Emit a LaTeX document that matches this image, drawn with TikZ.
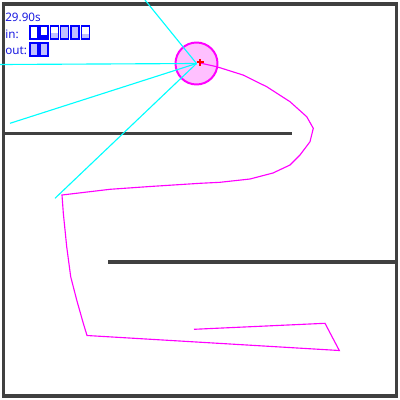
\documentclass[tikz,border=0pt]{standalone}
\usepackage{fontspec}
\setmainfont{Noto Sans}
\usetikzlibrary{positioning}
\definecolor{simMuro}{HTML}{404040}
\definecolor{simRayo}{HTML}{00FFFF}
\definecolor{simRuta}{HTML}{FF00FF}
\definecolor{simRosa}{HTML}{FFC0FF}
\definecolor{simAzul}{HTML}{0000FF}
\definecolor{simTexto}{HTML}{1A1AE0}
\definecolor{simCeleste}{HTML}{C0C0FF}

\begin{document}
\begin{tikzpicture}[x=0.25mm, y=-0.25mm,
      muro/.style={draw=simMuro, line width=2.4pt},
      rayo/.style={draw=simRayo, line width=0.8pt},
      ruta/.style={draw=simRuta, line width=0.8pt},
      celda/.style={draw=simAzul, line width=1.1pt},
      robotito/.style={circle, draw=simRuta, fill=simRosa, line width=1.4pt,
                minimum size=10.5mm, inner sep=0pt},
      txt/.style={anchor=base west, inner sep=0pt, text=simTexto,
                font=\fontsize{8.3}{10}\selectfont}]
    \useasboundingbox (0,0) rectangle (400,400);
    % paredes
    \draw[muro] (3.5,4) rectangle (396.5,396);
    \draw[muro] (3.5,133.5) -- (291.5,133.5);
    \draw[muro] (108,262) -- (396.5,262);
    % robot
    \node[robotito] (robot) at (196.5,63.5) {};
    \coordinate (r1) at (145,0);
    \coordinate (r2) at (0,64.5);
    \coordinate (r3) at (10,123.3);
    \coordinate (r4) at (55,198.3);
    \foreach \r in {r1,r2,r3,r4}
      \draw[rayo] (robot.center) -- (\r);
    % recorrido
    \draw[ruta] (200,63) -- (216.7,66.7) -- (243,75) -- (266.7,86.7) -- (290,101.7)
      -- (306.7,116.7) -- (313.3,128.3) -- (310,141.7) -- (300,155) -- (290,165)
      -- (273,173) -- (250,179) -- (220,182.3) -- (200,183.3) -- (150,186.5)
      -- (110,189.3) -- (62,195) -- (63.3,213) -- (66.7,246.7) -- (70.7,276.7)
      -- (76.7,300) -- (83.3,323.3) -- (87,335.5) -- (339.3,350.5) -- (325,323.3)
      -- (194,329.3);
    \draw[red, line width=1.4pt] (196.5,62.3) -- (203.5,62.3) (200,58.8) -- (200,65.8);
    % textos
    \node[txt] (tiempo) at (5,21) {29.90s};
    \node[txt] (entrada) at (5,38.5) {in:};
    \node[txt] (salida) at (5,54.5) {out:};
    % barras
    \foreach \i/\h/\c in {0/0/white,1/0.3/simAzul,2/0.5/simCeleste,
                          3/1/simCeleste,4/1/simCeleste,5/0.35/simCeleste} {
      \fill[\c] ({29.8+10.3*\i},39) rectangle ++(8,{-13*\h});
      \draw[celda] ({29.8+10.3*\i},26) rectangle ++(8,13);
    }
    \foreach \i in {0,1} {
      \fill[simCeleste] ({29.8+10*\i},43) rectangle ++(8,13);
      \draw[celda] ({29.8+10*\i},43) rectangle ++(8,13);
    }
  \end{tikzpicture}
\end{document}
